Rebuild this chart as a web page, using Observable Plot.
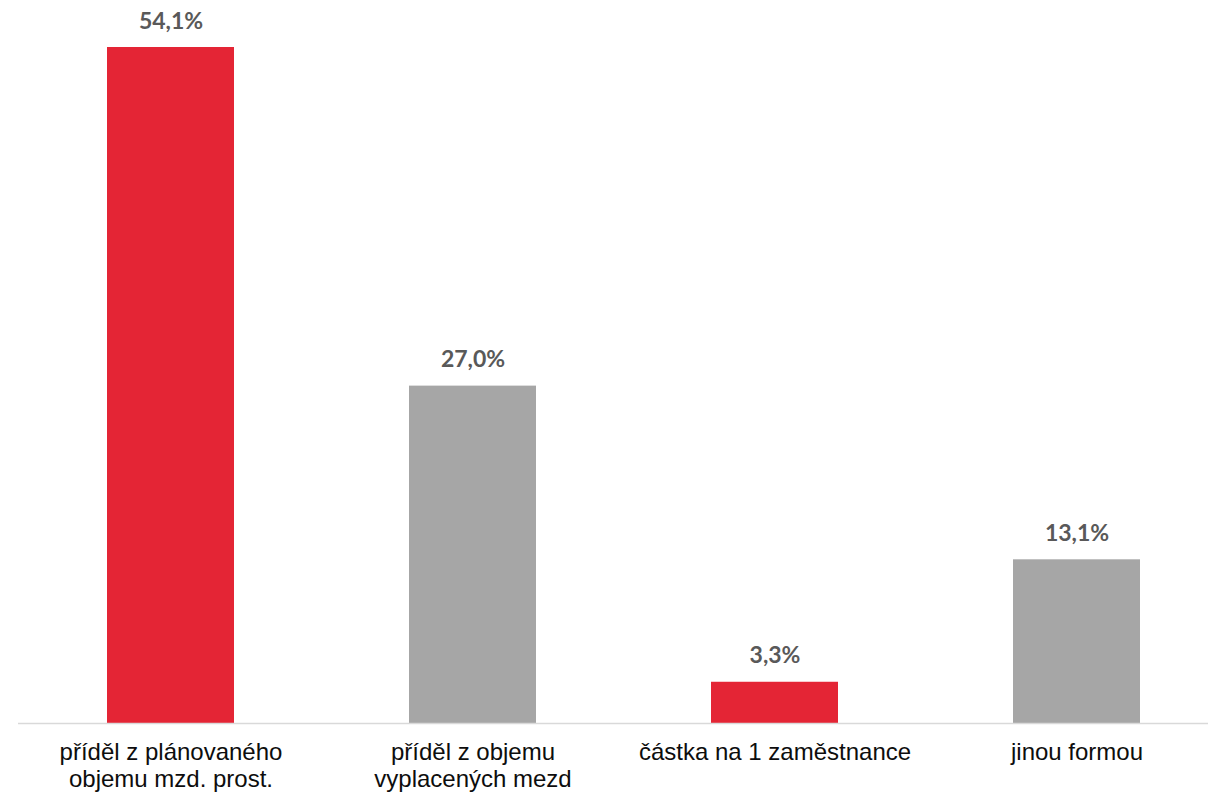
<!DOCTYPE html>
<html>
<head>
<meta charset="utf-8">
<script src="https://cdn.jsdelivr.net/npm/d3@7"></script>
<script src="https://cdn.jsdelivr.net/npm/@observablehq/plot@0.6"></script>
<style>
  html, body { margin: 0; padding: 0; background: #fff; overflow: hidden; }
</style>
</head>
<body>
<div id="chart"></div>
<script>
const categories = [
  "příděl z plánovaného\nobjemu mzd. prost.",
  "příděl z objemu\nvyplacených mezd",
  "částka na 1 zaměstnance",
  "jinou formou"
];
const values = [54.1, 27.0, 3.3, 13.1];
const barColors = ["#E42535", "#A6A6A6", "#E42535", "#A6A6A6"];

const data = categories.map((c, i) => ({ category: c, value: values[i], color: barColors[i] }));
const fmt = v => v.toFixed(1).replace(".", ",") + "%";

const chart = Plot.plot({
  width: 1208,
  height: 796,
  marginLeft: 18,
  marginRight: 0,
  marginTop: 47,
  marginBottom: 73,
  style: { fontFamily: "'Liberation Sans', Arial, sans-serif", background: "#fff" },
  x: { domain: categories, range: [18, 1228], paddingInner: 0.58, paddingOuter: 0.29, label: null },
  y: { domain: [0, 54.1], axis: null },
  marks: [
    Plot.barY(data, { x: "category", y: "value", fill: "color" }),
    Plot.ruleY([0], { stroke: "#D9D9D9", strokeWidth: 1.5 }),
    Plot.text(data, {
      x: "category", y: "value", text: d => fmt(d.value),
      dy: -19, lineAnchor: "bottom",
      fontFamily: "Lato, 'Open Sans', sans-serif", fontWeight: "bold",
      fontSize: 23, fill: "#595959"
    }),
    Plot.axisX({
      tickSize: 0, tickPadding: 17, fontSize: 24, lineHeight: 1.14,
      fill: "#0d0d0d", label: null
    })
  ]
});
document.getElementById("chart").appendChild(chart);
</script>
</body>
</html>
